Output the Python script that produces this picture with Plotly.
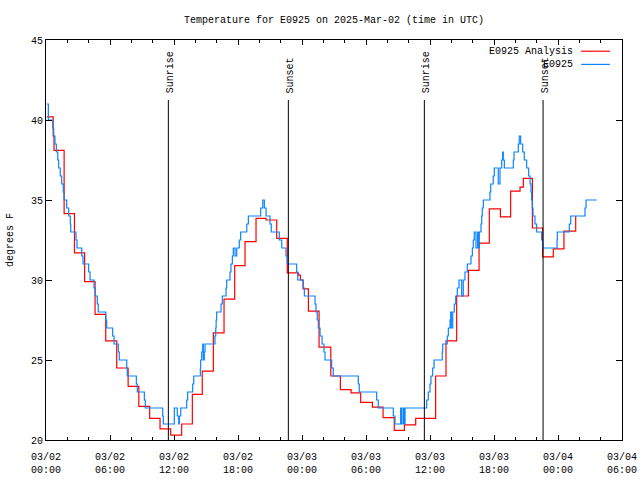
import pandas as pd
import plotly.graph_objects as go

BASE = pd.Timestamp("2025-03-02 00:00")

# E0925 Analysis (red): hours since 03/02 00:00 UTC, degrees F
analysis_hours = [0.07, 0.67, 0.75, 1.7, 2.67, 3.62, 4.6, 5.6, 6.63, 7.7, 8.7, 9.72,
                  10.69, 11.69, 12.72, 13.72, 14.65, 15.69, 16.69, 17.69, 18.66, 19.69,
                  20.63, 21.63, 22.62, 23.65, 23.85, 24.1, 24.6, 25.6, 26.7, 27.6, 28.6,
                  29.5, 30.6, 31.6, 32.65, 33.6, 34.66, 36.53, 37.5, 38.5, 39.6, 40.6,
                  41.56, 42.6, 43.56, 44.44, 44.75, 45.6, 46.56, 47.56, 48.56, 49.66]
analysis_temps = [40.2, 39.0, 38.1, 34.15, 31.7, 29.9, 27.85, 26.2, 24.5, 23.35, 22.1, 21.35,
                  20.7, 20.3, 21.0, 22.85, 24.3, 26.7, 28.8, 30.9, 32.4, 33.85,
                  33.75, 32.6, 30.45, 30.3, 30.0, 29.45, 28.05, 25.8, 24.0, 23.15, 22.95,
                  22.35, 22.05, 21.4, 20.6, 20.95, 21.35, 24.0, 26.2, 29.0, 30.6, 32.3,
                  34.45, 33.95, 35.55, 35.8, 36.35, 33.25, 31.45, 31.95, 33.05, 34.0]

# E0925 observations (blue)
obs_hours = [0.07, 0.22, 0.63, 0.72, 0.84, 0.97, 1.10, 1.19, 1.34, 1.47, 1.62, 1.69,
             1.94, 2.13, 2.28, 2.32, 2.81, 2.91, 3.35, 3.47, 4.00, 4.13, 4.50, 4.62,
             4.81, 4.90, 5.60, 5.69, 6.25, 6.38, 6.78, 6.87, 7.57, 7.62, 8.47, 8.56,
             9.22, 9.31, 10.94, 11.00, 12.03, 12.31, 12.44, 12.50, 12.63, 13.19, 13.28,
             13.75, 13.85, 14.47, 14.50, 14.60, 14.69, 14.75, 14.84, 14.91, 15.84, 15.91,
             15.95, 16.00, 16.41, 16.53, 16.88, 16.94, 17.25, 17.34, 17.47, 17.56, 17.72,
             17.88, 18.12, 18.25, 18.82, 18.97, 20.13, 20.32, 20.47, 20.63, 21.00, 21.12,
             21.87, 22.10, 22.50, 22.62, 23.50, 23.60, 24.12, 24.22, 25.22, 25.31, 25.43,
             25.53, 25.69, 25.88, 26.06, 26.16, 26.78, 26.93, 29.28, 29.37, 31.00, 31.15,
             32.56, 32.72, 33.25, 33.35, 33.50, 33.56, 33.66, 35.69, 35.84, 36.00, 36.09,
             36.25, 36.38, 37.15, 37.19, 37.62, 37.72, 37.88, 37.94, 38.00, 38.13, 38.28,
             38.41, 38.56, 38.72, 38.97, 39.12, 39.28, 39.50, 39.84, 39.97, 40.06, 40.15,
             40.31, 40.47, 40.53, 40.62, 40.78, 40.85, 40.90, 41.00, 41.62, 41.69, 41.93,
             42.03, 42.40, 42.56, 42.72, 42.81, 42.87, 42.97, 43.81, 43.88, 44.28, 44.37,
             44.50, 44.69, 44.84, 45.06, 45.25, 45.38, 45.47, 45.53, 45.59, 45.66, 45.84,
             46.00, 46.47, 46.56, 47.91, 47.94, 49.06, 49.19, 50.53, 50.63, 51.63]
obs_temps = [41.0, 40.0, 39.5, 39.0, 38.5, 38.0, 37.5, 37.0, 36.5, 36.0, 35.5, 35.0,
             34.5, 34.0, 33.5, 33.0, 32.5, 32.0, 31.5, 31.0, 30.5, 30.0, 29.5, 29.0,
             28.5, 28.0, 27.5, 27.0, 26.5, 26.0, 25.5, 25.0, 24.5, 24.0, 23.5, 23.0,
             22.5, 22.0, 21.5, 21.0, 22.0, 21.5, 21.0, 21.5, 22.0, 22.5, 23.0,
             23.5, 24.0, 24.5, 25.0, 25.5, 26.0, 25.0, 25.5, 26.0, 26.5, 27.0,
             27.5, 28.0, 28.5, 29.0, 29.5, 30.0, 30.5, 31.0, 31.5, 32.0, 31.5,
             32.0, 32.5, 33.0, 33.5, 34.0, 34.5, 35.0, 34.5, 34.0, 33.5, 33.0,
             32.5, 32.0, 31.5, 31.0, 30.5, 30.0, 29.5, 29.0, 28.5, 28.0, 27.5,
             27.0, 26.5, 26.0, 25.5, 25.0, 24.5, 24.0, 23.5, 23.0, 22.5, 22.0,
             21.5, 21.0, 22.0, 21.0, 22.0, 21.0, 22.0, 22.5, 23.0, 23.5, 24.0,
             24.5, 25.0, 25.5, 26.0, 26.5, 27.0, 27.5, 28.0, 27.0, 28.0, 28.5,
             29.0, 29.5, 30.0, 29.0, 30.0, 30.5, 31.0, 31.5, 32.0, 32.5, 33.0,
             32.0, 33.0, 32.0, 33.0, 33.5, 34.0, 34.5, 35.0, 35.5, 36.0, 36.5,
             37.0, 36.0, 37.0, 37.5, 38.0, 37.5, 37.0, 37.5, 38.0, 38.5, 39.0,
             38.5, 38.0, 37.5, 37.0, 36.5, 36.0, 35.5, 35.0, 34.5, 34.0, 33.5,
             33.0, 32.5, 32.0, 32.5, 33.0, 33.5, 34.0, 34.5, 35.0, 35.0]

sun_event_hours = [11.47, 22.72, 35.47, 46.6]
sun_event_labels = ["Sunrise", "Sunset", "Sunrise", "Sunset"]

x_tick_hours = [0, 6, 12, 18, 24, 30, 36, 42, 48, 54]
y_ticks = [20, 25, 30, 35, 40, 45]

FONT = "Liberation Mono, DejaVu Sans Mono, monospace"


def to_time(hours):
    return BASE + pd.to_timedelta(pd.Series(hours, dtype=float), unit="h")


analysis_t = to_time(analysis_hours)
obs_t = to_time(obs_hours)
tick_t = to_time(x_tick_hours)
sun_t = to_time(sun_event_hours)

fig = go.Figure()
fig.add_trace(go.Scatter(x=analysis_t, y=analysis_temps, mode="lines", line_shape="hv",
                         line=dict(color="#ff0000", width=1.2), name="E0925 Analysis",
                         showlegend=False))
fig.add_trace(go.Scatter(x=obs_t, y=obs_temps, mode="lines", line_shape="hv",
                         line=dict(color="#0a84ff", width=1.2), name="E0925",
                         showlegend=False))

shapes = []
annotations = []
for t, lab in zip(sun_t, sun_event_labels):
    shapes.append(dict(type="line", xref="x", yref="y", x0=t, x1=t, y0=20, y1=41.25,
                       line=dict(color="black", width=1)))
    annotations.append(dict(xref="x", yref="y", x=t, y=43.0 if lab == "Sunrise" else 42.8,
                            text=lab, textangle=-90, showarrow=False, xshift=2,
                            xanchor="center", yanchor="middle",
                            font=dict(family=FONT, size=10, color="black")))

# legend (gnuplot style: text then sample)
legend_items = [("E0925 Analysis", "#ff0000", 0.972), ("E0925", "#0a84ff", 0.939)]
for lab, col, yy in legend_items:
    annotations.append(dict(xref="paper", yref="paper", x=0.918, y=yy, text=lab,
                            showarrow=False, xanchor="right", yanchor="middle",
                            font=dict(family=FONT, size=10, color="black")))
    shapes.append(dict(type="line", xref="paper", yref="paper", x0=0.929, x1=0.979,
                       y0=yy, y1=yy, line=dict(color=col, width=1.2)))

annotations.append(dict(xref="paper", yref="paper", x=-0.0625, y=0.5, text="degrees F",
                        textangle=-90, showarrow=False, xanchor="center", yanchor="middle",
                        font=dict(family=FONT, size=10, color="black")))

fig.update_layout(
    width=640, height=480,
    margin=dict(l=46, r=18, t=40, b=40),
    paper_bgcolor="white", plot_bgcolor="white",
    font=dict(family=FONT, size=10, color="black"),
    title=dict(text="Temperature for E0925 on 2025-Mar-02 (time in UTC)",
               x=0.5, xref="paper", y=1 - 19 / 480, yref="container",
               xanchor="center", yanchor="middle",
               font=dict(family=FONT, size=10, color="black")),
    shapes=shapes, annotations=annotations,
    showlegend=False,
)
fig.update_xaxes(
    type="date", range=[tick_t.iloc[0], tick_t.iloc[-1]],
    tickvals=list(tick_t), ticktext=[f"{t:%m/%d}<br>{t:%H:%M}" for t in tick_t],
    ticks="inside", ticklen=5, tickcolor="black", tickwidth=1,
    minor=dict(dtick=2 * 3600 * 1000, ticks="inside", ticklen=3, tickcolor="black"),
    showline=True, linecolor="black", linewidth=1, mirror="ticks",
    showgrid=False, zeroline=False, fixedrange=True, automargin=False,
    ticklabelstandoff=7,
    tickfont=dict(family=FONT, size=10, color="black"),
)
fig.update_yaxes(
    range=[20, 45], tickvals=y_ticks,
    ticks="inside", ticklen=6, tickcolor="black", tickwidth=1,
    showline=True, linecolor="black", linewidth=1, mirror="ticks",
    showgrid=False, zeroline=False, fixedrange=True, automargin=False,
    tickfont=dict(family=FONT, size=10, color="black"),
)

fig.write_html("out.html", config={"displayModeBar": False},
               post_script="document.body.style.margin='0';document.body.style.overflow='hidden';")
